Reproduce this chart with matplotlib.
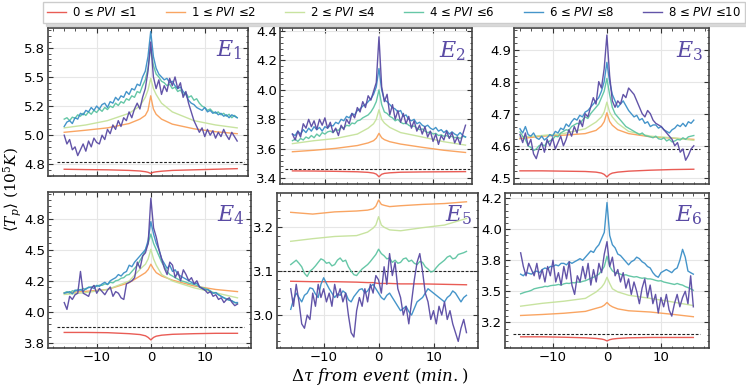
import numpy as np
import matplotlib.pyplot as plt
from matplotlib.ticker import AutoMinorLocator

plt.rcParams['mathtext.fontset'] = 'dejavuserif'

# PVI bins and colours
bins = [(0, 1), (1, 2), (2, 4), (4, 6), (6, 8), (8, 10)]
colors = ['#e8534c', '#f9a05a', '#c5e29b', '#5ec4a2', '#3b8fc7', '#5a4ba4']

# smooth curves (red, orange, light green) are read at these times
knots = [-16, -12, -8, -4, -2, -1, -0.5, 0, 0.5, 1, 2, 4, 8, 12, 16]

# ---- E1 ----
e1_red = [4.758, 4.755, 4.753, 4.748, 4.743, 4.737, 4.732, 4.722, 4.732, 4.736, 4.741, 4.748, 4.753, 4.758, 4.763]
e1_orange = [5.075, 5.093, 5.113, 5.15, 5.188, 5.22, 5.263, 5.388, 5.275, 5.23, 5.188, 5.145, 5.105, 5.08, 5.063]
e1_green = [5.113, 5.138, 5.175, 5.238, 5.3, 5.375, 5.438, 5.538, 5.45, 5.4, 5.325, 5.25, 5.175, 5.138, 5.113]
e1_teal = [5.188, 5.2, 5.175, 5.205, 5.195, 5.225, 5.213, 5.238, 5.22, 5.25, 5.23, 5.263, 5.245, 5.275, 5.255, 5.288,
           5.27, 5.3, 5.288, 5.325, 5.305, 5.338, 5.325, 5.363, 5.35, 5.388, 5.375, 5.425, 5.413, 5.475, 5.525, 5.625,
           5.8,
           5.65, 5.575, 5.55, 5.513, 5.5, 5.475, 5.488, 5.45, 5.463, 5.425, 5.438, 5.4, 5.413, 5.375, 5.388, 5.35,
           5.363, 5.325, 5.3, 5.288, 5.263, 5.275, 5.25, 5.238, 5.25, 5.225, 5.238, 5.213, 5.23, 5.2, 5.22, 5.2]
e1_blue = [5.125, 5.163, 5.175, 5.15, 5.2, 5.188, 5.238, 5.225, 5.263, 5.25, 5.288, 5.263, 5.3, 5.275, 5.313, 5.325,
           5.288, 5.338, 5.325, 5.375, 5.35, 5.388, 5.375, 5.425, 5.4, 5.45, 5.438, 5.488, 5.475, 5.55, 5.6, 5.725,
           5.94,
           5.725, 5.625, 5.575, 5.55, 5.525, 5.538, 5.5, 5.513, 5.475, 5.45, 5.463, 5.425, 5.4, 5.35, 5.325, 5.313,
           5.288, 5.275, 5.263, 5.288, 5.25, 5.263, 5.238, 5.25, 5.225, 5.238, 5.213, 5.225, 5.2, 5.225, 5.213, 5.2]
e1_purple = [5.05, 4.975, 5.013, 4.925, 4.95, 4.875, 4.925, 4.975, 4.913, 5.0, 4.95, 5.025, 4.988, 4.975, 5.05, 5.013,
             5.1, 5.063, 5.138, 5.1, 5.175, 5.125, 5.2, 5.175, 5.25, 5.2, 5.275, 5.325, 5.275, 5.375, 5.45, 5.6,
             5.85,
             5.55, 5.45, 5.525, 5.4, 5.475, 5.425, 5.538, 5.475, 5.55, 5.45, 5.5, 5.375, 5.425, 5.325, 5.25, 5.175,
             5.125, 5.075, 5.113, 5.038, 5.1, 5.05, 5.088, 5.025, 5.075, 5.038, 5.1, 5.05, 5.013, 5.075, 5.038, 5.0]

# ---- E2 ----
e2_red = [3.45, 3.449, 3.447, 3.444, 3.44, 3.435, 3.428, 3.41, 3.427, 3.433, 3.437, 3.441, 3.443, 3.444, 3.445]
e2_orange = [3.58, 3.59, 3.603, 3.622, 3.64, 3.655, 3.672, 3.705, 3.675, 3.662, 3.648, 3.632, 3.61, 3.59, 3.575]
e2_green = [3.635, 3.655, 3.67, 3.7, 3.74, 3.77, 3.8, 3.865, 3.8, 3.775, 3.745, 3.71, 3.68, 3.648, 3.625]
e2_teal = [3.655, 3.665, 3.65, 3.67, 3.66, 3.68, 3.67, 3.69, 3.675, 3.7, 3.685, 3.71, 3.7, 3.715, 3.72, 3.71,
           3.73, 3.725, 3.745, 3.74, 3.76, 3.755, 3.775, 3.77, 3.79, 3.795, 3.81, 3.82, 3.83, 3.85, 3.88, 3.92,
           4.0,
           3.9, 3.85, 3.84, 3.82, 3.81, 3.79, 3.8, 3.78, 3.77, 3.775, 3.76, 3.75, 3.755, 3.74, 3.73, 3.735,
           3.72, 3.71, 3.715, 3.7, 3.705, 3.69, 3.695, 3.685, 3.69, 3.68, 3.685, 3.675, 3.68, 3.67, 3.685, 3.68]
e2_blue = [3.7, 3.69, 3.72, 3.7, 3.73, 3.71, 3.74, 3.72, 3.75, 3.73, 3.745, 3.72, 3.75, 3.74, 3.76, 3.755,
           3.78, 3.77, 3.8, 3.79, 3.82, 3.81, 3.84, 3.83, 3.86, 3.87, 3.89, 3.9, 3.92, 3.94, 3.97, 4.02,
           4.145,
           4.0, 3.93, 3.92, 3.9, 3.88, 3.87, 3.85, 3.86, 3.82, 3.83, 3.8, 3.79, 3.8, 3.77, 3.78, 3.76,
           3.75, 3.76, 3.74, 3.73, 3.745, 3.72, 3.73, 3.71, 3.725, 3.7, 3.715, 3.7, 3.69, 3.71, 3.69, 3.68]
e2_purple = [3.7, 3.66, 3.72, 3.68, 3.77, 3.74, 3.8, 3.75, 3.79, 3.73, 3.8, 3.76, 3.81, 3.74, 3.78, 3.71,
             3.74, 3.69, 3.76, 3.73, 3.8, 3.77, 3.84, 3.81, 3.88, 3.85, 3.92, 3.88, 3.96, 3.93, 3.99, 4.05,
             4.36,
             4.02, 3.92, 3.97, 3.83, 3.9, 3.8, 3.86, 3.78, 3.84, 3.77, 3.82, 3.74, 3.79, 3.72, 3.76, 3.7,
             3.75, 3.68, 3.72, 3.65, 3.7, 3.63, 3.69, 3.66, 3.72, 3.67, 3.71, 3.64, 3.68, 3.63, 3.7, 3.76]

# ---- E3 ----
e3_red = [4.522, 4.522, 4.521, 4.52, 4.518, 4.515, 4.511, 4.503, 4.511, 4.515, 4.518, 4.521, 4.524, 4.526, 4.527]
e3_orange = [4.622, 4.63, 4.633, 4.638, 4.648, 4.662, 4.675, 4.703, 4.676, 4.664, 4.65, 4.638, 4.628, 4.624, 4.62]
e3_green = [4.627, 4.632, 4.638, 4.653, 4.674, 4.69, 4.705, 4.736, 4.705, 4.69, 4.67, 4.645, 4.63, 4.625, 4.617]
e3_teal = [4.643, 4.63, 4.62, 4.6, 4.595, 4.585, 4.59, 4.6, 4.605, 4.6, 4.61, 4.615, 4.62, 4.63, 4.628, 4.64,
           4.645, 4.65, 4.648, 4.66, 4.665, 4.67, 4.668, 4.68, 4.69, 4.685, 4.7, 4.71, 4.72, 4.73, 4.75, 4.77,
           4.81,
           4.76, 4.72, 4.7, 4.69, 4.68, 4.67, 4.66, 4.655, 4.65, 4.645, 4.64, 4.635, 4.64, 4.632, 4.63, 4.628,
           4.625, 4.63, 4.622, 4.62, 4.625, 4.615, 4.62, 4.612, 4.615, 4.62, 4.618, 4.625, 4.62, 4.628, 4.63, 4.632]
e3_blue = [4.653, 4.64, 4.66, 4.635, 4.63, 4.64, 4.625, 4.62, 4.63, 4.618, 4.625, 4.635, 4.63, 4.645, 4.64, 4.655,
           4.65, 4.668, 4.66, 4.675, 4.685, 4.68, 4.695, 4.69, 4.705, 4.71, 4.72, 4.73, 4.74, 4.75, 4.77, 4.8,
           4.86,
           4.8, 4.76, 4.74, 4.72, 4.73, 4.74, 4.725, 4.71, 4.7, 4.69, 4.695, 4.68, 4.685, 4.67, 4.675, 4.66,
           4.665, 4.665, 4.655, 4.66, 4.65, 4.645, 4.64, 4.65, 4.655, 4.665, 4.66, 4.67, 4.66, 4.675, 4.67, 4.68]
e3_purple = [4.635, 4.61, 4.64, 4.6, 4.62, 4.575, 4.56, 4.59, 4.61, 4.58, 4.62, 4.6, 4.625, 4.59, 4.61, 4.63,
             4.6, 4.62, 4.65, 4.63, 4.66, 4.64, 4.68, 4.66, 4.7, 4.69, 4.72, 4.75, 4.73, 4.8, 4.78, 4.84,
             4.945,
             4.82, 4.74, 4.72, 4.74, 4.73, 4.76, 4.75, 4.78, 4.77, 4.76, 4.74, 4.72, 4.7, 4.69, 4.71, 4.7,
             4.68, 4.67, 4.665, 4.66, 4.65, 4.64, 4.63, 4.62, 4.6, 4.61, 4.58, 4.59, 4.555, 4.57, 4.59, 4.6]

# ---- E4 ----
e4_red = [3.885, 3.885, 3.883, 3.875, 3.868, 3.858, 3.845, 3.825, 3.845, 3.855, 3.863, 3.87, 3.875, 3.878, 3.878]
e4_orange = [4.203, 4.215, 4.23, 4.285, 4.338, 4.365, 4.39, 4.433, 4.395, 4.365, 4.338, 4.305, 4.258, 4.23, 4.213]
e4_green = [4.19, 4.205, 4.23, 4.298, 4.393, 4.433, 4.475, 4.553, 4.475, 4.425, 4.35, 4.298, 4.243, 4.203, 4.163]
e4_teal = [4.203, 4.213, 4.2, 4.22, 4.215, 4.23, 4.225, 4.238, 4.23, 4.25, 4.245, 4.26, 4.255, 4.265, 4.263, 4.275,
           4.27, 4.288, 4.283, 4.3, 4.305, 4.32, 4.325, 4.345, 4.35, 4.375, 4.4, 4.425, 4.463, 4.5, 4.55, 4.6,
           4.675,
           4.6, 4.55, 4.5, 4.45, 4.413, 4.375, 4.35, 4.338, 4.325, 4.313, 4.3, 4.295, 4.288, 4.28, 4.275, 4.27,
           4.263, 4.25, 4.245, 4.238, 4.23, 4.22, 4.2, 4.205, 4.188, 4.175, 4.163, 4.155, 4.145, 4.138, 4.125, 4.118]
e4_blue = [4.2, 4.205, 4.213, 4.195, 4.225, 4.22, 4.23, 4.215, 4.238, 4.245, 4.25, 4.238, 4.263, 4.255, 4.275, 4.288,
           4.27, 4.3, 4.313, 4.325, 4.35, 4.338, 4.363, 4.375, 4.425, 4.413, 4.45, 4.475, 4.5, 4.525, 4.55, 4.625,
           4.775,
           4.675, 4.6, 4.55, 4.475, 4.438, 4.4, 4.425, 4.375, 4.388, 4.35, 4.338, 4.325, 4.313, 4.3, 4.288, 4.275,
           4.28, 4.25, 4.238, 4.225, 4.23, 4.213, 4.2, 4.205, 4.188, 4.175, 4.163, 4.15, 4.145, 4.138, 4.125, 4.125]
e4_purple = [4.125, 4.07, 4.175, 4.15, 4.188, 4.2, 4.375, 4.2, 4.188, 4.175, 4.238, 4.263, 4.2, 4.238, 4.213, 4.188,
             4.225, 4.25, 4.175, 4.213, 4.2, 4.163, 4.15, 4.275, 4.288, 4.3, 4.325, 4.45, 4.4, 4.5, 4.525, 4.6,
             4.963,
             4.725, 4.65, 4.55, 4.475, 4.4, 4.35, 4.45, 4.425, 4.325, 4.375, 4.3, 4.388, 4.35, 4.3, 4.325, 4.275,
             4.3, 4.25, 4.238, 4.225, 4.2, 4.213, 4.175, 4.188, 4.15, 4.163, 4.125, 4.15, 4.163, 4.125, 4.1, 4.113]

# ---- E5 ----
e5_red = [3.077, 3.076, 3.076, 3.075, 3.074, 3.074, 3.073, 3.072, 3.072, 3.072, 3.072, 3.071, 3.071, 3.07, 3.069]
e5_orange = [3.234, 3.23, 3.235, 3.237, 3.239, 3.242, 3.248, 3.262, 3.252, 3.25, 3.247, 3.249, 3.252, 3.254, 3.258]
e5_green = [3.168, 3.174, 3.179, 3.181, 3.189, 3.198, 3.205, 3.224, 3.205, 3.2, 3.194, 3.192, 3.199, 3.205, 3.22]
e5_teal = [3.115, 3.12, 3.125, 3.118, 3.11, 3.095, 3.088, 3.1, 3.105, 3.112, 3.12, 3.128, 3.125, 3.118, 3.12, 3.112,
           3.115, 3.125, 3.13, 3.122, 3.125, 3.11, 3.1, 3.092, 3.09, 3.098, 3.105, 3.11, 3.115, 3.122, 3.13, 3.138,
           3.15,
           3.14, 3.135, 3.128, 3.13, 3.12, 3.125, 3.118, 3.12, 3.128, 3.13, 3.122, 3.125, 3.118, 3.115, 3.122, 3.12,
           3.11, 3.105, 3.098, 3.1, 3.108, 3.115, 3.12, 3.125, 3.132, 3.135, 3.128, 3.13, 3.138, 3.14, 3.142, 3.145]
e5_blue = [3.013, 3.035, 3.05, 3.04, 3.03, 3.045, 3.05, 3.062, 3.06, 3.048, 3.04, 3.07, 3.085, 3.072, 3.06, 3.05,
           3.04, 3.048, 3.045, 3.055, 3.05, 3.035, 3.03, 3.042, 3.05, 3.058, 3.06, 3.05, 3.055, 3.065, 3.07, 3.06,
           3.05,
           3.04, 3.035, 3.045, 3.05, 3.04, 3.03, 3.02, 3.01, 3.015, 3.02, 3.008, 3.0, 3.015, 3.03, 3.035, 3.04,
           3.05, 3.06, 3.055, 3.05, 3.045, 3.04, 3.035, 3.03, 3.04, 3.045, 3.055, 3.05, 3.04, 3.03, 3.04, 3.045]
e5_purple = [3.06, 3.02, 3.07, 3.03, 2.98, 2.97, 3.0, 2.99, 3.05, 3.02, 3.07, 3.04, 3.06, 3.03, 3.05, 3.02,
             3.07, 3.04, 3.06, 3.03, 3.05, 3.0, 2.96, 2.95, 3.01, 3.04, 3.02, 3.06, 3.03, 3.07, 3.05, 3.09,
             3.08,
             3.05, 3.11, 3.07, 3.14, 3.09, 3.12, 3.06, 3.04, 3.0, 3.02, 2.98, 3.03, 3.08, 3.12, 3.14, 3.1,
             3.05, 3.03, 2.99, 3.01, 2.98, 3.02, 3.0, 3.03, 2.99, 3.01, 2.98, 2.96, 2.94, 2.97, 2.99, 2.96]

# ---- E6 ----
e6_red = [3.083, 3.083, 3.08, 3.075, 3.07, 3.065, 3.06, 3.05, 3.06, 3.065, 3.07, 3.075, 3.078, 3.078, 3.078]
e6_orange = [3.255, 3.263, 3.273, 3.288, 3.313, 3.325, 3.338, 3.36, 3.338, 3.325, 3.308, 3.293, 3.283, 3.265, 3.245]
e6_green = [3.33, 3.353, 3.37, 3.393, 3.445, 3.483, 3.513, 3.563, 3.513, 3.47, 3.445, 3.418, 3.393, 3.365, 3.335]
e6_teal = [3.43, 3.438, 3.445, 3.45, 3.458, 3.47, 3.475, 3.48, 3.483, 3.49, 3.488, 3.495, 3.498, 3.5, 3.505, 3.5,
           3.51, 3.515, 3.513, 3.52, 3.518, 3.525, 3.523, 3.53, 3.535, 3.545, 3.555, 3.563, 3.575, 3.588, 3.615, 3.65,
           3.733,
           3.65, 3.615, 3.6, 3.595, 3.588, 3.58, 3.583, 3.575, 3.57, 3.565, 3.568, 3.56, 3.555, 3.558, 3.55, 3.55,
           3.545, 3.538, 3.533, 3.535, 3.525, 3.52, 3.515, 3.51, 3.505, 3.513, 3.505, 3.5, 3.488, 3.48, 3.47, 3.458]
e6_blue = [3.588, 3.575, 3.6, 3.595, 3.588, 3.605, 3.613, 3.6, 3.625, 3.638, 3.63, 3.65, 3.65, 3.663, 3.655, 3.675,
           3.675, 3.663, 3.688, 3.675, 3.688, 3.7, 3.713, 3.7, 3.725, 3.75, 3.775, 3.763, 3.8, 3.825, 3.875, 3.925,
           4.165,
           3.9, 3.825, 3.8, 3.75, 3.738, 3.713, 3.688, 3.663, 3.688, 3.7, 3.725, 3.713, 3.688, 3.675, 3.65, 3.638,
           3.6, 3.575, 3.563, 3.6, 3.613, 3.625, 3.613, 3.6, 3.625, 3.638, 3.7, 3.788, 3.725, 3.613, 3.6, 3.588]
e6_purple = [3.76, 3.65, 3.575, 3.675, 3.625, 3.575, 3.675, 3.55, 3.625, 3.525, 3.65, 3.575, 3.7, 3.525, 3.6, 3.5,
             3.65, 3.55, 3.688, 3.5, 3.425, 3.575, 3.525, 3.65, 3.55, 3.675, 3.5, 3.625, 3.525, 3.675, 3.6, 3.75,
             3.85,
             3.65, 3.725, 3.575, 3.625, 3.525, 3.6, 3.475, 3.55, 3.425, 3.525, 3.45, 3.35, 3.475, 3.55, 3.4, 3.5,
             3.35, 3.425, 3.275, 3.4, 3.325, 3.425, 3.3, 3.25, 3.35, 3.425, 3.325, 3.4, 3.45, 3.35, 3.575, 3.325]

# reference level (dashed line) of each event
e_ref = [4.82, 3.462, 4.589, 3.925, 3.1, 3.108]

# y ticks (positions, labels) as printed on the figure
e_yticks = [([4.8, 5.05, 5.3, 5.55, 5.8], ['4.8', '5.0', '5.2', '5.5', '5.8']),
            ([3.4, 3.6, 3.8, 4.0, 4.2, 4.4], ['3.4', '3.6', '3.8', '4.0', '4.2', '4.4']),
            ([4.5, 4.6, 4.7, 4.8, 4.9], ['4.5', '4.6', '4.7', '4.8', '4.9']),
            ([3.8, 4.05, 4.3, 4.55, 4.8], ['3.8', '4.0', '4.2', '4.5', '4.8']),
            ([3.0, 3.1, 3.2], ['3.0', '3.1', '3.2']),
            ([3.2, 3.45, 3.7, 3.95, 4.2], ['3.2', '3.5', '3.8', '4.0', '4.2'])]

events = [
    (e1_red, e1_orange, e1_green, e1_teal, e1_blue, e1_purple),
    (e2_red, e2_orange, e2_green, e2_teal, e2_blue, e2_purple),
    (e3_red, e3_orange, e3_green, e3_teal, e3_blue, e3_purple),
    (e4_red, e4_orange, e4_green, e4_teal, e4_blue, e4_purple),
    (e5_red, e5_orange, e5_green, e5_teal, e5_blue, e5_purple),
    (e6_red, e6_orange, e6_green, e6_teal, e6_blue, e6_purple),
]

# layout, in pixels of the 746x386 canvas: left, top, right, bottom
W, H = 746, 386
boxes = [(48, 28, 248, 176), (280, 28, 472, 184), (514, 28, 709, 184),
         (48, 192, 251, 348), (277, 193, 478, 348), (505, 193, 709, 348)]
xlims = [(-19.0, 18.0), (-18.3, 17.2), (-17.1, 18.8),
         (-19.0, 18.5), (-18.5, 18.1), (-18.9, 18.9)]
ylims = [(4.70, 5.97), (3.361, 4.42), (4.481, 4.967),
         (3.76, 5.013), (2.925, 3.278), (2.993, 4.242)]

fig = plt.figure(figsize=(W / 100, H / 100), dpi=100)

handles = []
for i, series in enumerate(events):
    l, t, r, b = boxes[i]
    ax = fig.add_axes([l / W, 1 - b / H, (r - l) / W, (b - t) / H])
    for j, vals in enumerate(series):
        x = knots if len(vals) == len(knots) else np.linspace(-16, 16, len(vals))
        ln, = ax.plot(x, vals, color=colors[j], lw=1.0, alpha=0.95, zorder=3 + j)
        if i == 0:
            handles.append(ln)
    ax.hlines(e_ref[i], -17.4, 17.2, colors='#222222', linestyles=(0, (2.5, 1.5)), lw=0.8, zorder=2)
    ax.set_xlim(*xlims[i])
    ax.set_ylim(*ylims[i])
    ax.set_xticks([-10, 0, 10])
    ax.xaxis.set_minor_locator(AutoMinorLocator(5))
    ax.set_yticks(e_yticks[i][0])
    ax.set_yticklabels(e_yticks[i][1])
    ax.yaxis.set_minor_locator(AutoMinorLocator(5))
    ax.tick_params(which='both', direction='in', top=True, right=True, labelsize=9.5, color='#333333')
    ax.tick_params(which='major', length=3.5, pad=2)
    ax.tick_params(which='minor', length=1.8)
    if i < 3:
        ax.tick_params(labelbottom=False)
    ax.grid(True, color='#e6e6e6', lw=0.8, zorder=0)
    for sp in ax.spines.values():
        sp.set_color('#444444')
        sp.set_linewidth(1.2)
    ax.text(0.97, 0.93, '$E_{%d}$' % (i + 1), transform=ax.transAxes, ha='right', va='top',
            fontsize=16, color='#5a4ba4')

labels = ['%d ≤ $PVI$ ≤%d' % b for b in bins]
fig.legend(handles, labels, loc='lower left', bbox_to_anchor=(43 / W, 1 - 23 / H, 702 / W, 21 / H),
           mode='expand', ncol=6, prop={'size': 8.5, 'math_fontfamily': 'dejavusans'},
           handlelength=1.6, handletextpad=0.5, columnspacing=0.8, frameon=True, fancybox=False,
           shadow={'color': '#bbbbbb', 'alpha': 0.5}, borderaxespad=0,
           edgecolor='#cccccc', borderpad=0.35)

fig.text(13 / W, 1 - 190 / H, r'$\langle T_p\rangle\ (10^5 K)$', rotation=90, ha='center', va='center',
         fontsize=11)
fig.text(380 / W, 1 - 381 / H, r'$\Delta\tau\ from\ event\ (min.)$', ha='center', va='baseline', fontsize=12)

fig.savefig('out.png', dpi=100)
